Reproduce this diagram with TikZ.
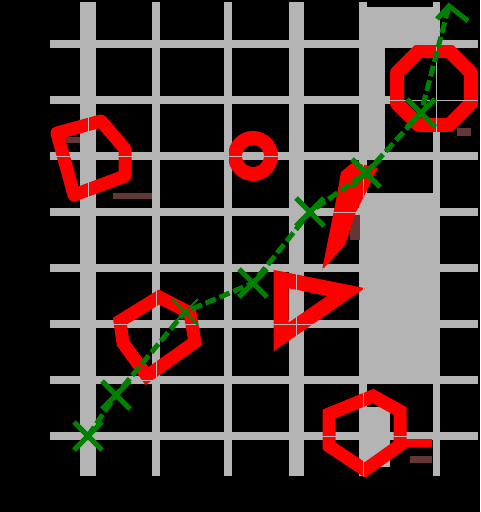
\documentclass[tikz,border=0pt]{standalone}
\usetikzlibrary{shapes.geometric,shapes.misc}
\definecolor{gridgray}{RGB}{180,180,180}
\definecolor{shapered}{RGB}{255,0,0}
\definecolor{pathgreen}{RGB}{0,128,0}
\definecolor{shadowred}{RGB}{100,55,55}
\begin{document}
\begin{tikzpicture}[x=1pt,y=-1pt,
  gridline/.style={gridgray,line width=8pt},
  gridthin/.style={gridgray,line width=0.9pt},
  shapeline/.style={draw=shapered,line width=13pt},
  pathline/.style={pathgreen,line width=5pt,dash pattern=on 11pt off 4pt},
  xmark/.style={cross out,draw=pathgreen,line width=5pt,minimum size=28pt,inner sep=0pt,outer sep=0pt},
  tipline/.style={pathgreen,line width=5pt}]
\fill[black] (0,0) rectangle (480,512);
\useasboundingbox (0,0) rectangle (480,512);
% thick grid
\foreach \y in {44,100,...,436} \draw[gridline] (50,\y) -- (478,\y);
\foreach \x/\w in {88/16,156/8,228/8,296/15,363/8,436/7}
  \draw[gridgray,line width=\w pt] (\x,2) -- (\x,476);
% gray blocks
\fill[gridgray] (360,7) rectangle (436,42);
\fill[gridgray] (360,42) rectangle (385,157);
\fill[gridgray] (360,193) rectangle (438,383);
\fill[gridgray] (362,407) rectangle (390,467);
% faint dark bars
\fill[shadowred] (63,137) rectangle (80,143);
\fill[shadowred] (113,193) rectangle (152,199);
\fill[shadowred] (457,128) rectangle (471,136);
\fill[shadowred] (350,215) rectangle (360,240);
\fill[shadowred] (410,456) rectangle (432,463);
% shapes
\draw[shapeline,line join=round] (57,133) -- (101,121) -- (125,149) -- (125,176) -- (74,195) -- cycle;
\node (ring) [circle,draw=shapered,line width=14pt,minimum size=36pt,inner sep=0pt] at (253,156) {};
\node (octagon) [regular polygon,regular polygon sides=8,draw=shapered,fill=black,line width=14pt,line join=round,minimum size=80pt,inner sep=0pt] at (434,88) {};
\draw[shapeline] (159,297) -- (190,313) -- (195,342) -- (147,376) -- (123,343) -- (120,321) -- cycle;
\draw[shapeline,line width=15pt] (281,279) -- (346,292) -- (281,337) -- cycle;
\fill[shapered] (322,270) -- (336,200) -- (341,172) -- (352,163) -- (365,165) -- (378,168) -- (368,188) -- (356,212) -- (345,245) -- cycle;
\draw[shapeline] (373,396) -- (400,411) -- (400,445) -- (365,470) -- (329,446) -- (329,414) -- cycle;
\draw[shapered,line width=8pt] (400,443) -- (432,443);
% thin grid on top
\foreach \y in {44,100,...,436} \draw[gridthin] (50,\y) -- (478,\y);
\foreach \x in {88,156,228,296,363,436} \draw[gridthin] (\x,2) -- (\x,476);
% green path
\coordinate (p1) at (88,436);
\coordinate (p2) at (116,395);
\coordinate (p3) at (185,312);
\coordinate (p4) at (253,283);
\coordinate (p5) at (310,212);
\coordinate (p6) at (366,173);
\coordinate (p7) at (421,113);
\coordinate (tip) at (449,6);
\coordinate (barbL) at (437,19);
\coordinate (barbR) at (468,21);
\draw[pathline] (p1) -- (p2) -- (p3) -- (p4) -- (p5) -- (p6) -- (p7) -- (tip);
\draw[tipline] (barbL) -- (tip) -- (barbR);
\node (m1) [xmark] at (p1) {};
\node (m2) [xmark] at (p2) {};
\node (m3) [xmark,line width=2pt,minimum size=26pt] at (p3) {};
\node (m4) [xmark] at (p4) {};
\node (m5) [xmark] at (p5) {};
\node (m6) [xmark] at (p6) {};
\node (m7) [xmark] at (p7) {};
\end{tikzpicture}
\end{document}
